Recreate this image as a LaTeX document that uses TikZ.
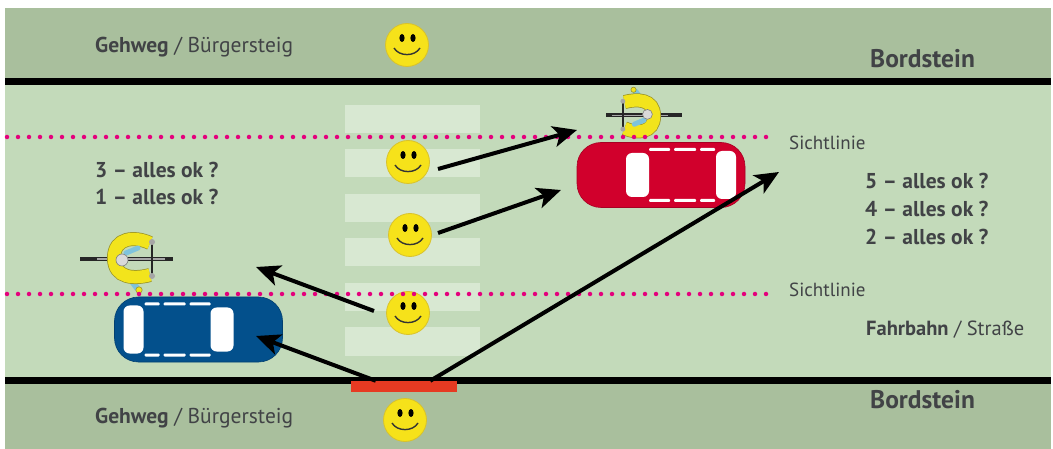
\documentclass[tikz,border=0pt]{standalone}
\usepackage{fontspec}
\setmainfont{PT Sans}
\usetikzlibrary{arrows.meta}

\definecolor{walkgreen}{HTML}{A9BF9D}
\definecolor{roadgreen}{HTML}{C3DABA}
\definecolor{stripe}{HTML}{D8E8D2}
\definecolor{labelgray}{HTML}{414346}
\definecolor{sightpink}{HTML}{E4007C}
\definecolor{smileyyellow}{HTML}{F6E21A}
\definecolor{smileyedge}{HTML}{D9C22A}
\definecolor{carred}{HTML}{D1002C}
\definecolor{carblue}{HTML}{03508C}
\definecolor{barred}{HTML}{E63A22}
\definecolor{jacket}{HTML}{F2E41C}
\definecolor{jacketedge}{HTML}{9A9428}
\definecolor{jeans}{HTML}{7EC3DD}

\tikzset{
  lbl/.style={anchor=base west, inner sep=0pt, text=labelgray},
  smiley/.style={circle, minimum size=43pt, inner sep=0pt, fill=smileyyellow,
    draw=smileyedge, line width=0.8pt,
    path picture={
      \fill[black] ([shift={(-5,-7)}]path picture bounding box.center)
        ellipse [x radius=2.6pt, y radius=4pt];
      \fill[black] ([shift={(6,-7)}]path picture bounding box.center)
        ellipse [x radius=2.6pt, y radius=4pt];
      \draw[line width=1.4pt, black!80] ([shift={(-13,3)}]path picture bounding box.center)
        to[bend right=60] ([shift={(13,3)}]path picture bounding box.center);
    }},
  carbody/.style={rectangle, rounded corners=24pt, minimum width=168pt,
    minimum height=65pt, inner sep=0pt, line width=0.6pt},
  sightline/.style={sightpink, line width=4.5pt, line cap=round,
    dash pattern=on 0pt off 11pt},
  sightarrow/.style={line width=4pt,
    -{Stealth[length=24pt, width=21pt, inset=6pt]}},
  car details/.pic={
    % rear window, windshield and the side windows
    \fill[white, rounded corners=6pt] (-75,-24) rectangle (-55,24);
    \fill[white, rounded corners=6pt] (12,-22) rectangle (35,22);
    \foreach \a/\b in {-54/-39, -35/-13, -9/12} {
      \fill[white, rounded corners=1pt] (\a,-27) rectangle (\b,-24);
      \fill[white, rounded corners=1pt] (\a,24) rectangle (\b,27);
    }
  },
  cyclist/.pic={
    % bicycle seen from above
    \draw[line width=3.5pt, black!85] (-45,1) -- (48,1);
    \draw[line width=1.2pt, black!35] (-28,1) -- (40,1);
    \draw[line width=2.6pt, black!85] (27,-16) -- (27,18);
    % rider
    \draw[line width=6pt, jeans, line cap=round] (3,18) -- (12,30);
    \fill[jacket, draw=jacketedge, line width=0.6pt] (14,32) circle (3.2);
    \draw[line width=14pt, jacketedge] (25,-15) .. controls (10,-22) and (-11,-21)
      .. (-11,0) .. controls (-11,21) and (10,21) .. (25,17);
    \draw[line width=12.5pt, jacket] (25,-15) .. controls (10,-22) and (-11,-21)
      .. (-11,0) .. controls (-11,21) and (10,21) .. (25,17);
    \draw[line width=5pt, jeans, line cap=round] (1,-5) -- (13,-10);
    \fill[black!15, draw=black!50, line width=0.6pt] (-3,2) circle (6);
    \fill[black!35] (27,-16) circle (3);
    \fill[black!35] (27,18) circle (3);
  }
}

\begin{document}
\begin{tikzpicture}[x=1pt, y=-1pt]
\useasboundingbox (0,0) rectangle (1053,449);
\fill[white] (0,0) rectangle (1053,449);

% pavements and carriageway
\fill[walkgreen] (5,8) rectangle (1051,449);
\fill[roadgreen] (5,84) rectangle (1051,378);
\fill[black] (5,78) rectangle (1051,85);
\fill[black] (5,377) rectangle (1051,384);

% zebra crossing
\foreach \i in {0,...,5}
  \fill[stripe] (345,105+44.5*\i) rectangle (480,133+44.5*\i);

% kerb marking where the pedestrian steps out
\node[rectangle, fill=barred, minimum width=106pt, minimum height=11pt, inner sep=0pt]
  (bar) at (404,386.5) {};

% pedestrians
\node[smiley] (s1) at (407,45) {};
\node[smiley] (s2) at (408,162) {};
\node[smiley] (s3) at (410,235) {};
\node[smiley] (s4) at (408,313) {};
\node[smiley] (s5) at (405,420) {};

% cars
\node[carbody, fill=carred, draw=carred!80!black] (redcar) at (661,175) {};
\pic[xscale=-1] at (redcar.center) {car details};
\node[carbody, fill=carblue, draw=carblue!80!black] (bluecar) at (198.5,329.5) {};
\pic at (bluecar.center) {car details};

% cyclists
\pic at (125,258) {cyclist};
\pic[rotate=180, scale=0.82] at (645,116) {cyclist};

% lines of sight
\coordinate (up1) at (7,137);
\coordinate (up2) at (776,137);
\coordinate (lo1) at (7,294);
\coordinate (lo2) at (776,294);
\draw[sightline] (up1) -- (up2);
\draw[sightline] (lo1) -- (lo2);

% looking directions
\coordinate (a1s) at (438,169);
\coordinate (a1e) at (577,130);
\coordinate (a2s) at (438,233);
\coordinate (a2e) at (561,190);
\coordinate (a3s) at (374,311);
\coordinate (a3e) at (256,267);
\coordinate (a4s) at ([xshift=25pt]bar.north west);
\coordinate (a4e) at (256,336);
\coordinate (a5s) at ([xshift=-27pt]bar.north east);
\coordinate (a5e) at (779,172);
\draw[sightarrow] (a1s) -- (a1e);
\draw[sightarrow] (a2s) -- (a2e);
\draw[sightarrow] (a3s) -- (a3e);
\draw[sightarrow] (a4s) -- (a4e);
\draw[sightarrow] (a5s) -- (a5e);

% labels
\node[lbl, font=\fontsize{21.5}{25}\selectfont] (gw1) at (95,53)
  {\textbf{Gehweg} / Bürgersteig};
\node[lbl, font=\fontsize{21.5}{25}\selectfont] (gw2) at (95,423)
  {\textbf{Gehweg} / Bürgersteig};
\node[lbl, font=\fontsize{25.5}{29}\selectfont\bfseries] (bs1) at (870,68) {Bordstein};
\node[lbl, font=\fontsize{25.5}{29}\selectfont\bfseries] (bs2) at (870,408) {Bordstein};
\node[lbl, font=\fontsize{19}{23}\selectfont] (sl1) at (789,150) {Sichtlinie};
\node[lbl, font=\fontsize{21.5}{25}\selectfont\bfseries] (q3) at (95,178) {3 – alles ok ?};
\node[lbl, font=\fontsize{21.5}{25}\selectfont\bfseries] (q1) at (95,205) {1 – alles ok ?};
\node[lbl, font=\fontsize{21.5}{25}\selectfont\bfseries] (q5) at (865,189) {5 – alles ok ?};
\node[lbl, font=\fontsize{21.5}{25}\selectfont\bfseries] (q4) at (865,217) {4 – alles ok ?};
\node[lbl, font=\fontsize{21.5}{25}\selectfont\bfseries] (q2) at (865,245) {2 – alles ok ?};
\node[lbl, font=\fontsize{19}{23}\selectfont] (sl2) at (789,297) {Sichtlinie};
\node[lbl, font=\fontsize{20.5}{24}\selectfont] (fb) at (866,335) {\textbf{Fahrbahn} / Straße};
\end{tikzpicture}
\end{document}
